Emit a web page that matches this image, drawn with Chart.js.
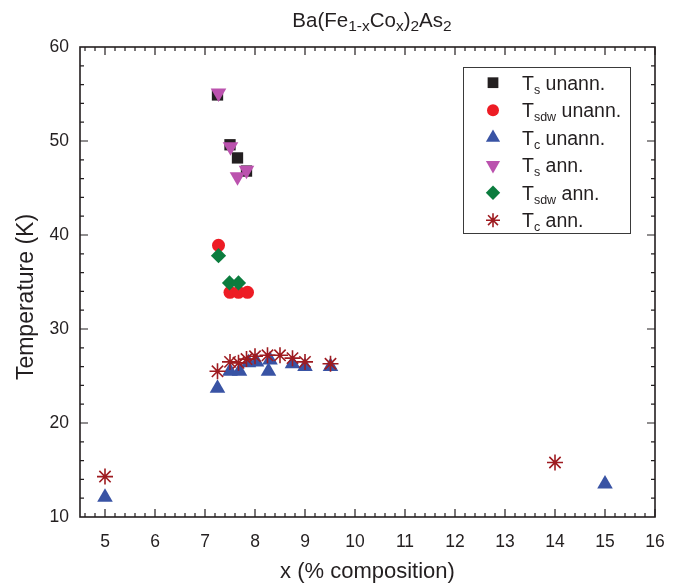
<!DOCTYPE html>
<html>
<head>
<meta charset="utf-8">
<script src="https://cdn.jsdelivr.net/npm/chart.js@4.4.0/dist/chart.umd.min.js"></script>
<style>
html, body { margin: 0; padding: 0; background: #fff; }
</style>
</head>
<body>
<canvas id="chart" width="682" height="586"></canvas>
<script>
"use strict";

// tick labels
var xTicks = [5, 6, 7, 8, 9, 10, 11, 12, 13, 14, 15, 16];
var yTicks = [10, 20, 30, 40, 50, 60];

// series
var tsUnannX = [7.25, 7.5, 7.65, 7.83];
var tsUnannY = [54.9, 49.6, 48.2, 46.8];
var tsdwUnannX = [7.27, 7.5, 7.67, 7.85];
var tsdwUnannY = [38.9, 33.9, 33.9, 33.9];
var tcUnannX = [5, 7.25, 7.5, 7.69, 7.87, 8.03, 8.27, 8.3, 8.75, 9.0, 9.51, 15];
var tcUnannY = [12.1, 23.7, 25.5, 25.5, 26.4, 26.5, 25.5, 26.7, 26.3, 26.0, 26.0, 13.5];
var tsAnnX = [7.27, 7.51, 7.65, 7.83];
var tsAnnY = [55.1, 49.4, 46.2, 46.9];
var tsdwAnnX = [7.27, 7.49, 7.67];
var tsdwAnnY = [37.8, 34.9, 34.9];
var tcAnnX = [5, 7.25, 7.5, 7.67, 7.83, 8.0, 8.25, 8.5, 8.75, 9.0, 9.51, 14];
var tcAnnY = [14.3, 25.5, 26.5, 26.4, 26.8, 27.1, 27.2, 27.2, 26.9, 26.5, 26.3, 15.8];

var ink = "#231f20", font = "'Liberation Sans', Arial, sans-serif";

function pts(xs, ys) {
    return xs.map(function(x, i) { return { x: x, y: ys[i] }; });
}

var series = [
    { main: "T", sub: "s", rest: " unann.", x: tsUnannX, y: tsUnannY, style: "rect", color: ink, r: 8, lr: 7.6 },
    { main: "T", sub: "sdw", rest: " unann.", x: tsdwUnannX, y: tsdwUnannY, style: "circle", color: "#ed1c24", r: 6.5, lr: 6 },
    { main: "T", sub: "c", rest: " unann.", x: tcUnannX, y: tcUnannY, style: "triangle", color: "#3953a4", r: 9, lr: 8.2 },
    { main: "T", sub: "s", rest: " ann.", x: tsAnnX, y: tsAnnY, style: "down", color: "#bb52ae", r: 9, lr: 8.2 },
    { main: "T", sub: "sdw", rest: " ann.", x: tsdwAnnX, y: tsdwAnnY, style: "rectRot", color: "#0b7c3e", r: 7.6, lr: 7.2 },
    { main: "T", sub: "c", rest: " ann.", x: tcAnnX, y: tcAnnY, style: "star", color: "#9e1b20", r: 8, lr: 7 }
];

function marker(ctx, style, x, y, r, color) {
    ctx.save();
    ctx.fillStyle = color; ctx.strokeStyle = color;
    ctx.beginPath();
    var s, a, i;
    if (style === "rect") {
        s = r * Math.SQRT1_2; ctx.rect(x - s, y - s, 2 * s, 2 * s); ctx.fill();
    } else if (style === "circle") {
        ctx.arc(x, y, r, 0, Math.PI * 2); ctx.fill();
    } else if (style === "triangle" || style === "down") {
        var rot = style === "down" ? Math.PI : 0;
        for (i = 0; i < 3; i++) {
            a = rot + i * Math.PI * 2 / 3;
            ctx.lineTo(x + Math.sin(a) * r, y - Math.cos(a) * r);
        }
        ctx.closePath(); ctx.fill();
    } else if (style === "rectRot") {
        ctx.moveTo(x, y - r); ctx.lineTo(x + r, y); ctx.lineTo(x, y + r); ctx.lineTo(x - r, y);
        ctx.closePath(); ctx.fill();
    } else if (style === "star") {
        ctx.lineWidth = 1.6;
        for (i = 0; i < 4; i++) {
            a = i * Math.PI / 4;
            ctx.moveTo(x - Math.cos(a) * r, y - Math.sin(a) * r);
            ctx.lineTo(x + Math.cos(a) * r, y + Math.sin(a) * r);
        }
        ctx.stroke();
    }
    ctx.restore();
}

// text with subscripts: parts = [[text, isSub], ...]
function richWidth(ctx, parts, size, subSize) {
    var w = 0;
    parts.forEach(function(p) {
        ctx.font = (p[1] ? subSize : size) + "px " + font;
        w += ctx.measureText(p[0]).width;
    });
    return w;
}
function richText(ctx, parts, x, y, size, subSize, shift) {
    ctx.textBaseline = "alphabetic"; ctx.textAlign = "left";
    parts.forEach(function(p) {
        ctx.font = (p[1] ? subSize : size) + "px " + font;
        ctx.fillText(p[0], x, y + (p[1] ? shift : 0));
        x += ctx.measureText(p[0]).width;
    });
}

var decor = {
    id: "decor",
    afterDraw: function(chart) {
        var ctx = chart.ctx, a = chart.chartArea, xs = chart.scales.x, ys = chart.scales.y;
        ctx.save();
        ctx.strokeStyle = ink; ctx.fillStyle = ink;

        // inward ticks on all four sides
        ctx.lineWidth = 1.2;
        ctx.beginPath();
        var v, p, len;
        for (v = 4.6; v < 16.01; v += 0.2) {
            v = Math.round(v * 10) / 10;
            p = xs.getPixelForValue(v);
            len = xTicks.indexOf(v) >= 0 ? 8 : 4;
            ctx.moveTo(p, a.bottom); ctx.lineTo(p, a.bottom - len);
            ctx.moveTo(p, a.top); ctx.lineTo(p, a.top + len);
        }
        for (v = 12; v < 60; v += 2) {
            p = ys.getPixelForValue(v);
            len = yTicks.indexOf(v) >= 0 ? 8 : 4;
            ctx.moveTo(a.left, p); ctx.lineTo(a.left + len, p);
            ctx.moveTo(a.right, p); ctx.lineTo(a.right - len, p);
        }
        ctx.stroke();

        // frame
        ctx.lineWidth = 1.6;
        ctx.strokeRect(a.left, a.top, a.right - a.left, a.bottom - a.top);

        // title
        var title = [["Ba(Fe", 0], ["1-x", 1], ["Co", 0], ["x", 1], [")", 0], ["2", 1], ["As", 0], ["2", 1]];
        var tw = richWidth(ctx, title, 20.5, 15.5);
        richText(ctx, title, 372 - tw / 2, 27, 20.5, 15.5, 3.5);

        // axis titles
        ctx.font = "22px " + font;
        ctx.textAlign = "center"; ctx.textBaseline = "middle";
        ctx.fillText("x (% composition)", (a.left + a.right) / 2, 572);
        ctx.save();
        ctx.font = "23px " + font;
        ctx.translate(27, 297);
        ctx.rotate(-Math.PI / 2);
        ctx.fillText("Temperature (K)", 0, 0);
        ctx.restore();

        // legend
        ctx.fillStyle = "#fff";
        ctx.fillRect(463, 67, 167, 166);
        ctx.lineWidth = 1;
        ctx.strokeStyle = "#3a3a3a";
        ctx.strokeRect(463.5, 67.5, 167, 166);
        series.forEach(function(s, i) {
            var cy = 82.7 + i * 27.5;
            marker(ctx, s.style, 493, cy, s.lr, s.color);
            ctx.fillStyle = ink;
            richText(ctx, [[s.main, 0], [s.sub, 1], [s.rest, 0]], 522, cy + 7, 19.5, 12.5, 4);
        });
        ctx.restore();
    }
};

var styleMap = { rect: "rect", circle: "circle", triangle: "triangle", down: "triangle", rectRot: "rectRot", star: "star" };

var datasets = series.map(function(s, i) {
    return {
        label: s.main + s.sub + s.rest,
        data: pts(s.x, s.y),
        pointStyle: styleMap[s.style],
        rotation: s.style === "down" ? 180 : 0,
        pointRadius: s.r,
        backgroundColor: s.color,
        borderColor: s.color,
        borderWidth: s.style === "star" ? 1.6 : 0,
        order: series.length - i
    };
});

new Chart(document.getElementById("chart"), {
    type: "scatter",
    data: { datasets: datasets },
    plugins: [decor],
    options: {
        responsive: false,
        animation: false,
        devicePixelRatio: 1,
        layout: { padding: { top: 47, right: 27, left: 0, bottom: 0 } },
        plugins: { legend: { display: false }, tooltip: { enabled: false } },
        scales: {
            x: {
                type: "linear", min: 4.5, max: 16,
                grid: { display: false, drawTicks: false },
                border: { display: false },
                afterBuildTicks: function(s) { s.ticks = xTicks.map(function(v) { return { value: v }; }); },
                afterFit: function(s) { s.height = 69; },
                ticks: { color: ink, padding: 15, maxRotation: 0, font: { family: font, size: 17.5 } }
            },
            y: {
                type: "linear", min: 10, max: 60,
                grid: { display: false, drawTicks: false },
                border: { display: false },
                afterBuildTicks: function(s) { s.ticks = yTicks.map(function(v) { return { value: v }; }); },
                afterFit: function(s) { s.width = 80; },
                ticks: { color: ink, padding: 11, font: { family: font, size: 17.5 } }
            }
        }
    }
});
</script>
</body>
</html>
